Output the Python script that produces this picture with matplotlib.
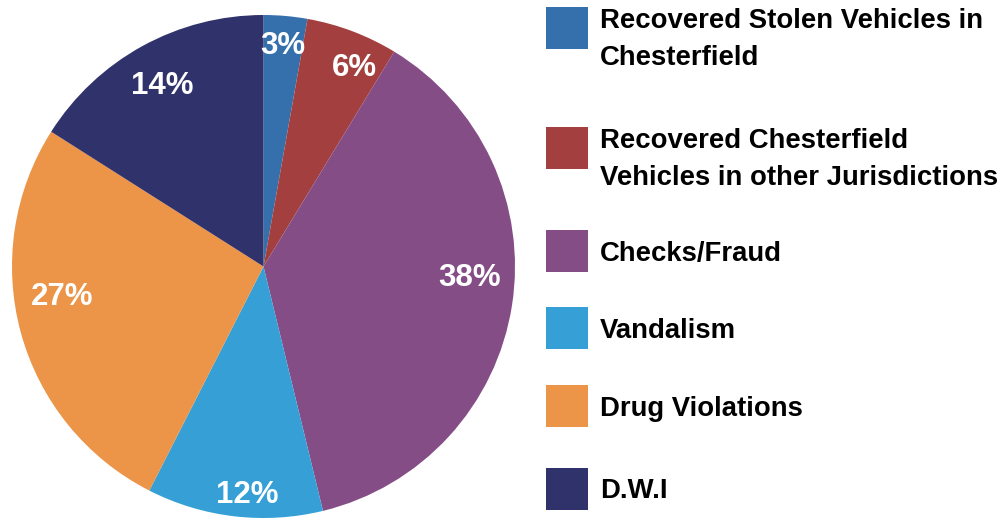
import matplotlib
matplotlib.use("Agg")
import numpy as np
import matplotlib.pyplot as plt
from matplotlib.patches import Rectangle

categories = [
    "Recovered Stolen Vehicles in\nChesterfield",
    "Recovered Chesterfield\nVehicles in other Jurisdictions",
    "Checks/Fraud",
    "Vandalism",
    "Drug Violations",
    "D.W.I",
]
# wedge shares as drawn in the picture (percent of circle)
shares = [2.8, 5.9, 37.5, 11.3, 26.5, 16.0]
# percentages printed on the wedges
pct_labels = ["3%", "6%", "38%", "12%", "27%", "14%"]
colors = ["#3670AC", "#A3403F", "#844D86", "#36A0D6", "#EC9447", "#30326C"]

# label placement (layout only)
label_radius = [0.892, 0.878, 0.822, 0.899, 0.808, 0.832]
label_shift_deg = [0, -3.5, 6.4, 2.6, -7.6, 0]

plt.rcParams["font.family"] = ["Liberation Sans", "DejaVu Sans"]

W, H = 1007, 519
fig = plt.figure(figsize=(W / 100, H / 100), dpi=100)
fig.patch.set_facecolor("white")

cx, cy, r = 263.5, 266.5, 251.5
ax = fig.add_axes([(cx - r) / W, (H - cy - r) / H, 2 * r / W, 2 * r / H])
wedges, _ = ax.pie(
    shares, colors=colors, startangle=90, counterclock=False,
    wedgeprops=dict(linewidth=0),
)
ax.set_xlim(-1, 1)
ax.set_ylim(-1, 1)
ax.set_aspect("equal")
ax.axis("off")

cap_half = 11.0 / r  # half cap height in data units
for w, lab, rad, sh in zip(wedges, pct_labels, label_radius, label_shift_deg):
    mid = np.deg2rad((w.theta1 + w.theta2) / 2 + sh)
    x, y = rad * np.cos(mid), rad * np.sin(mid)
    ax.text(x, y - cap_half, lab, ha="center", va="baseline", color="white",
            fontsize=22.5, fontweight="bold")

# legend (drawn manually)
sq = 42
sq_x = 546
text_x = 600
sq_tops = [7, 127, 230, 307, 385, 468]
line_gap = 36.7
for lab, col, top in zip(categories, colors, sq_tops):
    fig.patches.append(Rectangle((sq_x / W, (H - top - sq) / H), sq / W, sq / H,
                                 transform=fig.transFigure, facecolor=col,
                                 edgecolor="none"))
    lines = lab.split("\n")
    if len(lines) > 1:
        base0 = top + 21.5
    else:
        base0 = top + sq / 2 + 9.5
    for i, ln in enumerate(lines):
        fig.text(text_x / W, (H - (base0 + i * line_gap)) / H, ln, ha="left",
                 va="baseline", fontsize=19.8, fontweight="bold", color="black")

fig.savefig("out.png", dpi=100)
